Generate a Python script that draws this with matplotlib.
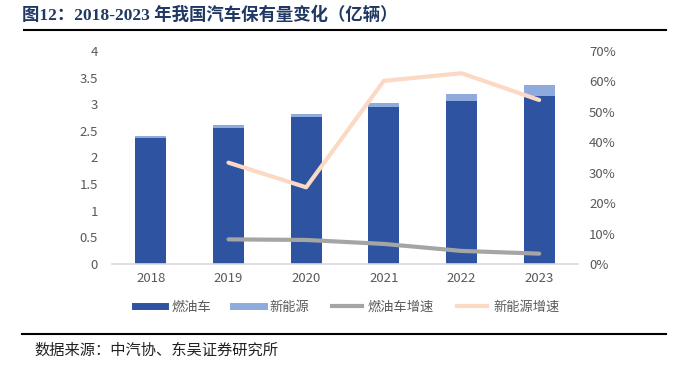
import matplotlib
matplotlib.use("Agg")
import matplotlib.pyplot as plt
from matplotlib.lines import Line2D
import numpy as np

plt.rcParams['font.family'] = ['Noto Sans CJK SC', 'DejaVu Sans']

years = ['2018', '2019', '2020', '2021', '2022', '2023']
gas = [2.37, 2.56, 2.76, 2.94, 3.06, 3.16]
nev = [0.03, 0.05, 0.06, 0.08, 0.13, 0.20]
gas_growth_years = ['2019', '2020', '2021', '2022', '2023']
gas_growth = [8.1, 7.9, 6.6, 4.3, 3.4]
nev_growth = [33.3, 25.2, 60.2, 62.7, 53.9]

c_gas = '#2E54A1'
c_nev = '#8FAADC'
c_gg = '#A5A5A5'
c_ng = '#FBD9C5'
tick_c = '#595959'

fig = plt.figure(figsize=(6.78, 3.65), dpi=100)
W, H = 678, 365
ax = fig.add_axes([112 / W, 1 - 264 / H, (578 - 112) / W, (264 - 51) / H])
x = np.arange(len(years))
ax.bar(x, gas, width=0.4, color=c_gas, zorder=2)
ax.bar(x, nev, width=0.4, bottom=gas, color=c_nev, zorder=2)
ax.set_xlim(-0.5, len(years) - 0.5)
ax.set_ylim(0, 4)
ax.set_yticks(np.arange(0, 4.01, 0.5))
ax.set_yticklabels(['0', '0.5', '1', '1.5', '2', '2.5', '3', '3.5', '4'])
ax.set_xticks(x)
ax.set_xticklabels(years)
for s in ['top', 'right', 'left']:
    ax.spines[s].set_visible(False)
ax.spines['bottom'].set_color('#D9D9D9')
ax.spines['bottom'].set_linewidth(1.2)
ax.tick_params(axis='both', length=0, labelsize=9.5, colors=tick_c, pad=6)
ax.tick_params(axis='y', pad=10)

ax2 = ax.twinx()
xg = [years.index(y) for y in gas_growth_years]
ax2.plot(xg, gas_growth, color=c_gg, lw=3, solid_capstyle='round', zorder=3)
ax2.plot(xg, nev_growth, color=c_ng, lw=3, solid_capstyle='round', zorder=3)
ax2.set_ylim(0, 70)
ax2.set_yticks(np.arange(0, 71, 10))
ax2.set_yticklabels([f'{v}%' for v in range(0, 71, 10)])
for s in ['top', 'right', 'left', 'bottom']:
    ax2.spines[s].set_visible(False)
ax2.tick_params(axis='y', length=0, labelsize=9.5, colors=tick_c, pad=8)

handles = [Line2D([], [], color=c_gas, lw=5),
           Line2D([], [], color=c_nev, lw=5),
           Line2D([], [], color=c_gg, lw=3),
           Line2D([], [], color=c_ng, lw=3)]
labels = ['燃油车', '新能源', '燃油车增速', '新能源增速']
leg = fig.legend(handles, labels, loc='center', bbox_to_anchor=(347 / W, 1 - 307 / H),
                 ncol=4, frameon=False, fontsize=9.5, handlelength=2.3,
                 columnspacing=1.7, handletextpad=0.45)
for t in leg.get_texts():
    t.set_color(tick_c)

fig.text(22 / W, 1 - 15 / H, '图12：2018-2023 年我国汽车保有量变化（亿辆）',
         family=['Liberation Serif', 'Noto Sans CJK SC'], fontweight='bold',
         fontsize=12.5, color='#1F3864', va='center', ha='left')
fig.add_artist(Line2D([24 / W, 666 / W], [1 - 30 / H, 1 - 30 / H], color='black', lw=1.5))
fig.add_artist(Line2D([22 / W, 666 / W], [1 - 334 / H, 1 - 334 / H], color='black', lw=1.5))
fig.text(34 / W, 1 - 350 / H, '数据来源：中汽协、东吴证券研究所', fontsize=11,
         color='#222222', va='center', ha='left')

fig.savefig('out.png', dpi=100)
